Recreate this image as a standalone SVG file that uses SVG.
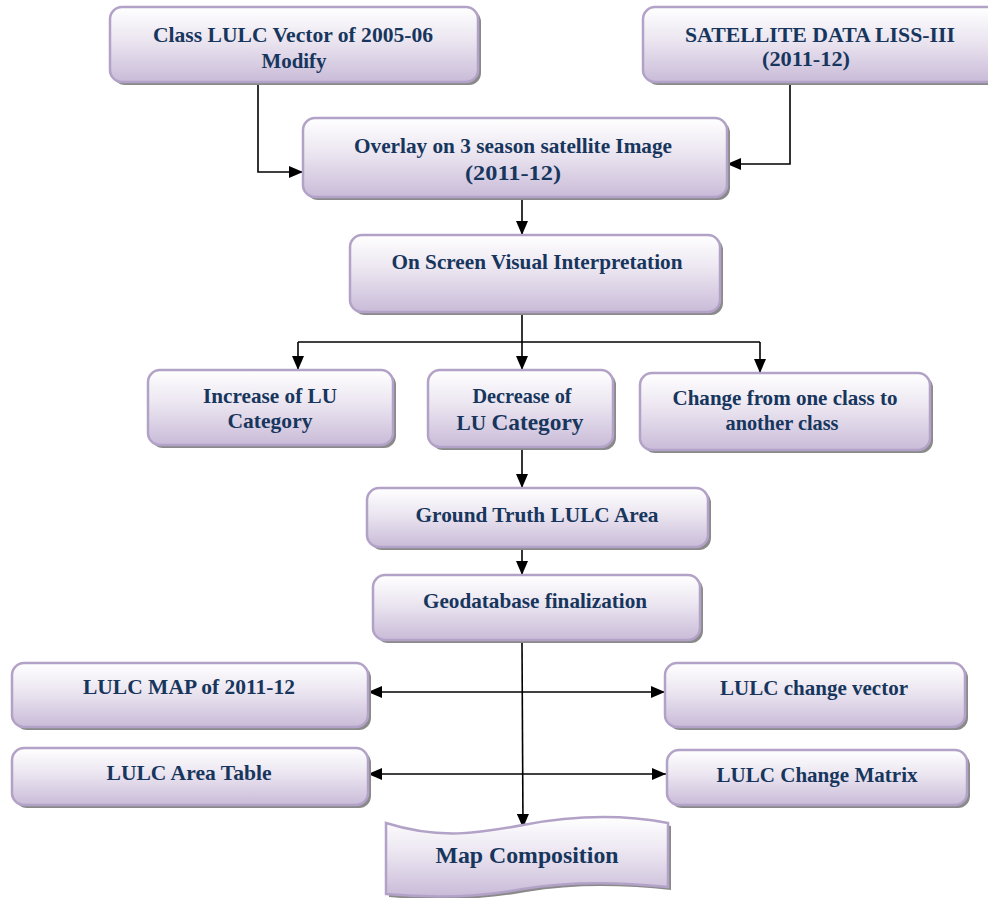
<svg xmlns="http://www.w3.org/2000/svg" width="988" height="898" viewBox="0 0 988 898">
<defs>
<linearGradient id="g" x1="0" y1="0" x2="0" y2="1">
<stop offset="0" stop-color="#ffffff"/>
<stop offset="0.45" stop-color="#ebe5f0"/>
<stop offset="1" stop-color="#c9bbd8"/>
</linearGradient>
<marker id="ah" markerUnits="userSpaceOnUse" markerWidth="14" markerHeight="12" refX="14" refY="6" orient="auto-start-reverse">
<path d="M0,0 L14,6 L0,12 Z" fill="#000"/>
</marker>
</defs>
<style>
.sh{fill:#8a8a8a}
.bx{fill:url(#g);stroke:#b3a2c7;stroke-width:2.5}
.t{font-family:'Liberation Serif','DejaVu Serif','Noto Serif',serif;font-weight:700;font-size:21px;fill:#17365d;text-anchor:middle}
.c{fill:none;stroke:#000;stroke-width:1.6}
</style>
<rect width="988" height="898" fill="#fff"/>

<g id="connectors">
<path class="c" d="M258,85 V172 H303" marker-end="url(#ah)"/>
<path class="c" d="M790,85 V164 H727" marker-end="url(#ah)"/>
<path class="c" d="M522,200 V235" marker-end="url(#ah)"/>
<path class="c" d="M522,315 V370" marker-end="url(#ah)"/>
<path class="c" d="M298,342 H760"/>
<path class="c" d="M298,342 V370" marker-end="url(#ah)"/>
<path class="c" d="M760,342 V373" marker-end="url(#ah)"/>
<path class="c" d="M522,450 V488" marker-end="url(#ah)"/>
<path class="c" d="M522,550 V575" marker-end="url(#ah)"/>
<path class="c" d="M522,643 L523,828" marker-end="url(#ah)"/>
<path class="c" d="M368,692 H665" marker-start="url(#ah)" marker-end="url(#ah)"/>
<path class="c" d="M368,774 H666" marker-start="url(#ah)" marker-end="url(#ah)"/>
</g>

<g id="n1">
<rect class="sh" x="113" y="10" width="368" height="75" rx="12"/>
<rect class="bx" x="110" y="7" width="368" height="75" rx="12"/>
<text class="t" x="293" y="42" textLength="280" lengthAdjust="spacingAndGlyphs">Class LULC Vector of 2005-06</text>
<text class="t" x="294" y="68" textLength="65" lengthAdjust="spacingAndGlyphs">Modify</text>
</g>
<g id="n2">
<rect class="sh" x="646" y="10" width="360" height="75" rx="12"/>
<rect class="bx" x="643" y="7" width="360" height="75" rx="12"/>
<text class="t" x="820" y="42" textLength="270" lengthAdjust="spacingAndGlyphs">SATELLITE DATA LISS-III</text>
<text class="t" x="806" y="66" textLength="88" lengthAdjust="spacingAndGlyphs">(2011-12)</text>
</g>
<g id="n3">
<rect class="sh" x="306" y="121" width="424" height="79" rx="12"/>
<rect class="bx" x="303" y="118" width="424" height="79" rx="12"/>
<text class="t" x="513" y="153" textLength="318" lengthAdjust="spacingAndGlyphs">Overlay on 3 season satellite Image</text>
<text class="t" x="513" y="180" style="font-size:22px" textLength="96" lengthAdjust="spacingAndGlyphs">(2011-12)</text>
</g>
<g id="n4">
<rect class="sh" x="353" y="238" width="370" height="77" rx="12"/>
<rect class="bx" x="350" y="235" width="370" height="77" rx="12"/>
<text class="t" x="537" y="269" textLength="291" lengthAdjust="spacingAndGlyphs">On Screen Visual Interpretation</text>
</g>
<g id="n5">
<rect class="sh" x="151" y="373" width="245" height="75" rx="12"/>
<rect class="bx" x="148" y="370" width="245" height="75" rx="12"/>
<text class="t" x="270" y="403" textLength="134" lengthAdjust="spacingAndGlyphs">Increase of LU</text>
<text class="t" x="270" y="428" textLength="85" lengthAdjust="spacingAndGlyphs">Category</text>
</g>
<g id="n6">
<rect class="sh" x="431" y="373" width="185" height="77" rx="12"/>
<rect class="bx" x="428" y="370" width="185" height="77" rx="12"/>
<text class="t" x="522" y="403" textLength="99" lengthAdjust="spacingAndGlyphs">Decrease of</text>
<text class="t" x="520" y="430" textLength="127" lengthAdjust="spacingAndGlyphs"><tspan>LU </tspan><tspan style="font-size:23px">Category</tspan></text>
</g>
<g id="n7">
<rect class="sh" x="643" y="376" width="290" height="77" rx="12"/>
<rect class="bx" x="640" y="373" width="290" height="77" rx="12"/>
<text class="t" x="785" y="405" textLength="225" lengthAdjust="spacingAndGlyphs">Change from one class to</text>
<text class="t" x="782" y="430" textLength="113" lengthAdjust="spacingAndGlyphs">another class</text>
</g>
<g id="n8">
<rect class="sh" x="370" y="491" width="341" height="59" rx="12"/>
<rect class="bx" x="367" y="488" width="341" height="59" rx="12"/>
<text class="t" x="537" y="522" textLength="243" lengthAdjust="spacingAndGlyphs">Ground Truth LULC Area</text>
</g>
<g id="n9">
<rect class="sh" x="376" y="578" width="327" height="65" rx="12"/>
<rect class="bx" x="373" y="575" width="327" height="65" rx="12"/>
<text class="t" x="535" y="608" textLength="224" lengthAdjust="spacingAndGlyphs">Geodatabase finalization</text>
</g>
<g id="n10">
<rect class="sh" x="15" y="666" width="356" height="64" rx="12"/>
<rect class="bx" x="12" y="663" width="356" height="64" rx="12"/>
<text class="t" x="189" y="694" textLength="212" lengthAdjust="spacingAndGlyphs">LULC MAP of 2011-12</text>
</g>
<g id="n11">
<rect class="sh" x="15" y="751" width="356" height="57" rx="12"/>
<rect class="bx" x="12" y="748" width="356" height="57" rx="12"/>
<text class="t" x="189" y="780" textLength="165" lengthAdjust="spacingAndGlyphs">LULC Area Table</text>
</g>
<g id="n12">
<rect class="sh" x="668" y="666" width="300" height="64" rx="12"/>
<rect class="bx" x="665" y="663" width="300" height="64" rx="12"/>
<text class="t" x="814" y="695" textLength="188" lengthAdjust="spacingAndGlyphs">LULC change vector</text>
</g>
<g id="n13">
<rect class="sh" x="670" y="753" width="300" height="55" rx="12"/>
<rect class="bx" x="667" y="750" width="300" height="55" rx="12"/>
<text class="t" x="817" y="782" textLength="201" lengthAdjust="spacingAndGlyphs">LULC Change Matrix</text>
</g>
<g id="n14">
<path class="sh" transform="translate(3,3)" d="M386,823 C440,840 480,833 523,825 C570,816 620,814 668,823 L668,887 C620,882 570,881 523,889 C480,897 430,898 386,894 Z"/>
<path class="bx" d="M386,823 C440,840 480,833 523,825 C570,816 620,814 668,823 L668,887 C620,882 570,881 523,889 C480,897 430,898 386,894 Z"/>
<text class="t" x="527" y="863" style="font-size:24px" textLength="183" lengthAdjust="spacingAndGlyphs">Map Composition</text>
</g>
</svg>
